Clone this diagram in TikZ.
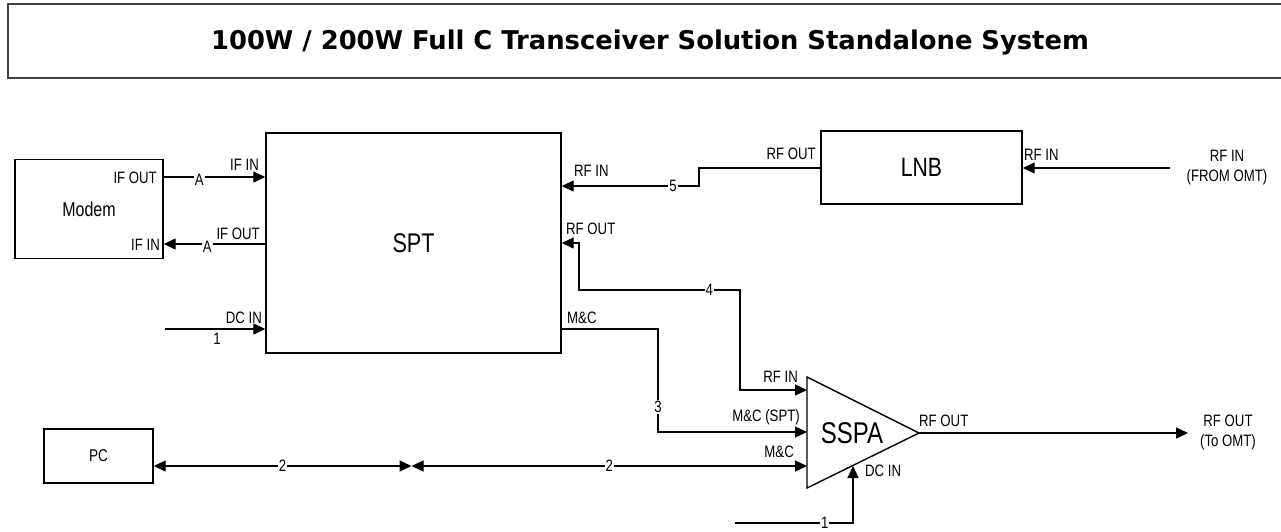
\documentclass[tikz,border=0pt]{standalone}
\usepackage{fontspec}
\setmainfont[FakeStretch=0.8]{Liberation Sans}
\newfontfamily\titlefont{DejaVu Sans}
\usetikzlibrary{arrows.meta}
\tikzset{
  box/.style={draw, line width=1.4pt, inner sep=0pt},
  wire/.style={line width=1.3pt},
  arr/.style={wire, -{Triangle[length=12pt,width=11pt]}},
  arrs/.style={wire, {Triangle[length=12pt,width=11pt]}-{Triangle[length=12pt,width=11pt]}},
  lab/.style={font=\fontsize{16.5}{18}\selectfont, inner sep=0pt},
  num/.style={font=\fontsize{16.5}{18}\selectfont, fill=white, inner sep=1pt},
  ext/.style={font=\fontsize{16.5}{20}\selectfont, align=center, inner sep=0pt},
}
\begin{document}
\begin{tikzpicture}[x=1pt,y=-1pt]
\clip (0,0) rectangle (1281,531);
\fill[white] (0,0) rectangle (1281,531);
% title
\draw[line width=1.2pt, black!75] (8,4) rectangle (1300,78);
\node[font=\titlefont\bfseries\fontsize{25.8}{30}\selectfont] (title) at (650,42) {100W / 200W Full C Transceiver Solution Standalone System};
% boxes
\node[box, minimum width=148pt, minimum height=99pt, font=\fontsize{20}{22}\selectfont] (modem) at (89,209) {Modem};
\node[box, minimum width=295pt, minimum height=220pt, font=\fontsize{27}{30}\selectfont] (spt) at (413.5,243) {SPT};
\node[box, minimum width=201pt, minimum height=73pt, font=\fontsize{26.5}{29}\selectfont] (lnb) at (921.5,167.5) {LNB};
\node[box, minimum width=109pt, minimum height=54pt, font=\fontsize{17}{19}\selectfont] (pc) at (98.5,456) {PC};
% SSPA triangle
\coordinate (sspaTop) at (807,377);
\coordinate (sspaOut) at (919,433);
\coordinate (sspaBot) at (807,488);
\draw[line width=1.4pt, line join=miter] (sspaTop) -- (sspaOut) -- (sspaBot) -- cycle;
\node[font=\fontsize{30}{33}\selectfont, inner sep=0pt] (sspa) at (852,433) {SSPA};
\coordinate (sspaRF) at (807,390);
\coordinate (sspaMCS) at (807,432);
\coordinate (sspaMC) at (807,466);
\coordinate (sspaDC) at (853,466);
% Modem <-> SPT
\draw[arr] (modem.east |- 0,177) -- node[num,pos=.35,yshift=-3pt]{A} (spt.west |- 0,177);
\draw[arr] (spt.west |- 0,244) -- node[num,pos=.57,yshift=-3pt]{A} (modem.east |- 0,244);
\node[lab, anchor=east] (l1) at (157,178) {IF OUT};
\node[lab, anchor=east] (l2) at (160,245) {IF IN};
\node[lab, anchor=east] (l3) at (259,165) {IF IN};
\node[lab, anchor=east] (l4) at (260,234) {IF OUT};
% DC IN SPT
\coordinate (dc1) at (165,329);
\draw[arr] (dc1) -- (spt.west |- dc1);
\node[lab, anchor=east] (l5) at (262,318) {DC IN};
\node[lab] (n1) at (217,339) {1};
% LNB
\coordinate (omtin) at (1170,168);
\draw[arr] (omtin) -- (lnb.east |- omtin);
\node[lab, anchor=west] (l6) at (1024,155) {RF IN};
\node[ext] (omt1) at (1227,168) {RF IN\\(FROM OMT)};
\draw[arr] (lnb.west |- 0,168) -- (699,168) -- (699,186) -- node[num,pos=.19]{5} (spt.east |- 0,186);
\node[lab, anchor=east] (l7) at (816,154) {RF OUT};
\node[lab, anchor=west] (l8) at (574,171) {RF IN};
% SPT RF OUT <-> SSPA RF IN
\draw[arrs] (sspaRF) -- (740,390) -- (740,290) -- node[num,pos=.19]{4} (579,290) -- (579,243) -- (spt.east |- 0,243);
\node[lab, anchor=west] (l9) at (566,229) {RF OUT};
\node[lab, anchor=east] (l10) at (798,377) {RF IN};
% M&C SPT -> SSPA
\draw[arr] (spt.east |- 0,329) -- (658,329) -- node[num,pos=.76]{3} (658,432) -- (sspaMCS);
\node[lab, anchor=west] (l11) at (567,318) {M\&C};
\node[lab, anchor=east] (l12) at (800,417) {M\&C (SPT)};
% PC <-> SSPA
\coordinate (mid) at (411.5,466);
\draw[arrs] (pc.east |- 0,466) -- node[num,pos=.5]{2} (mid);
\draw[arrs] (mid) -- node[num,pos=.5]{2} (sspaMC);
\node[lab, anchor=east] (l13) at (794,452) {M\&C};
% DC IN SSPA
\coordinate (dc2) at (735,523);
\draw[arr] (dc2) -- node[num,pos=.76]{1} (853,523) -- (sspaDC);
\node[lab, anchor=west] (l14) at (865,471) {DC IN};
% RF OUT SSPA
\coordinate (omtout) at (1188,433);
\draw[arr] (sspaOut) -- (omtout);
\node[lab, anchor=west] (l15) at (919,421) {RF OUT};
\node[ext] (omt2) at (1228,432) {RF OUT\\(To OMT)};
\end{tikzpicture}
\end{document}
